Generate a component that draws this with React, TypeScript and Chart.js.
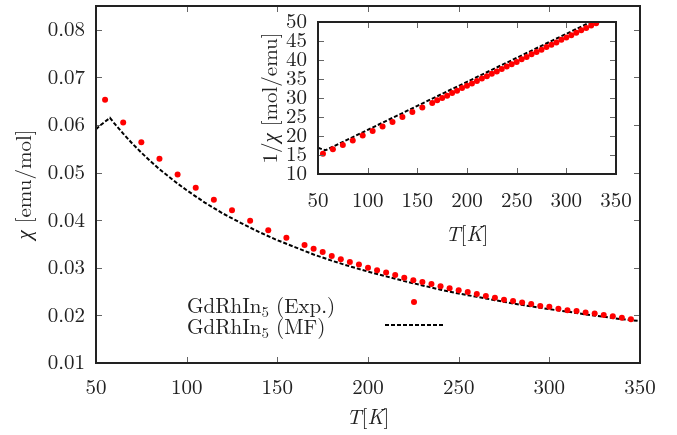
import React, { useEffect, useRef } from 'react';
import { Chart, registerables } from 'chart.js';
Chart.register(...registerables);

// ---------- data ----------
const expT = [55, 65, 75, 85, 95, 105, 115, 125, 135, 145, 155, 165,
  170, 175, 180, 185, 190, 195, 200, 205, 210, 215, 220, 225, 230, 235, 240, 245,
  250, 255, 260, 265, 270, 275, 280, 285, 290, 295, 300, 305, 310, 315, 320, 325,
  330, 335, 340, 345];
const expChi = [0.0653, 0.0605, 0.0564, 0.0529, 0.0496, 0.0468, 0.0443, 0.0421, 0.0399, 0.0379, 0.0363, 0.0348,
  0.0340, 0.0333, 0.0325, 0.0318, 0.0312, 0.0307, 0.0300, 0.0295, 0.0290, 0.0285, 0.0279, 0.0274, 0.0270, 0.0266, 0.0261, 0.0257,
  0.0253, 0.0249, 0.0245, 0.0241, 0.0237, 0.0233, 0.0230, 0.0227, 0.0224, 0.0220, 0.0218, 0.0214, 0.0211, 0.0209, 0.0206, 0.0204,
  0.0201, 0.0198, 0.0195, 0.0192];

const mfT = [50, 52, 55, 57.7, 60, 65, 70, 75, 80, 85, 90, 95, 100, 110, 120, 130, 140, 150, 160, 170,
  180, 190, 200, 210, 220, 230, 240, 250, 260, 270, 280, 290, 300, 310, 320, 330, 340, 350];
const mfChi = [0.0591, 0.0598, 0.0607, 0.0615, 0.0604, 0.0582, 0.0561, 0.0542, 0.0524, 0.0507, 0.0492, 0.0477, 0.0463, 0.0437, 0.0414, 0.0394, 0.0375, 0.0358, 0.0343, 0.0328,
  0.0315, 0.0303, 0.0292, 0.0282, 0.0272, 0.0263, 0.0254, 0.0246, 0.0239, 0.0232, 0.0225, 0.0219, 0.0213, 0.0208, 0.0202, 0.0197, 0.0192, 0.0188];

const insetExpT = [55, 65, 75, 85, 95, 105, 115, 125, 135, 145, 155, 165,
  170, 175, 180, 185, 190, 195, 200, 205, 210, 215, 220, 225, 230, 235, 240, 245,
  250, 255, 260, 265, 270, 275, 280, 285, 290, 295, 300, 305, 310, 315, 320, 325, 330];
const insetExpInv = [15.3, 16.5, 17.6, 18.8, 20.1, 21.3, 22.5, 23.7, 25.0, 26.3, 27.5, 28.7,
  29.4, 30.0, 30.6, 31.3, 31.9, 32.6, 33.2, 33.8, 34.5, 35.1, 35.7, 36.4, 37.0, 37.6, 38.3, 38.9,
  39.5, 40.2, 40.8, 41.5, 42.1, 42.7, 43.4, 44.0, 44.6, 45.3, 45.9, 46.5, 47.2, 47.8, 48.4, 49.1, 49.7];
const insetMfT = [50, 55, 57.7, 100, 150, 200, 250, 300, 330];
const insetMfInv = [16.9, 16.45, 16.26, 21.6, 27.93, 34.25, 40.57, 46.89, 50.68];

const mainXTicks = [50, 100, 150, 200, 250, 300, 350];
const mainYTicks = [0.01, 0.02, 0.03, 0.04, 0.05, 0.06, 0.07, 0.08];
const insetXTicks = [50, 100, 150, 200, 250, 300, 350];
const insetYTicks = [10, 15, 20, 25, 30, 35, 40, 45, 50];

const FONT = "'Latin Modern Roman', 'Liberation Serif', serif";
const FS = 21;

type Part = { t: string; it?: boolean; sub?: boolean };

function richWidth(ctx: CanvasRenderingContext2D, parts: Part[]) {
  let w = 0;
  for (const p of parts) {
    ctx.font = `${p.it ? 'italic ' : ''}${p.sub ? 15 : FS}px ${FONT}`;
    w += ctx.measureText(p.t).width;
  }
  return w;
}

function drawRich(ctx: CanvasRenderingContext2D, parts: Part[], x: number, y: number, opts: { center?: boolean; rotate?: boolean; baseline?: CanvasTextBaseline } = {}) {
  ctx.save();
  ctx.fillStyle = '#222';
  ctx.textBaseline = opts.baseline || 'middle';
  ctx.textAlign = 'left';
  ctx.translate(x, y);
  if (opts.rotate) ctx.rotate(-Math.PI / 2);
  let cx = opts.center ? -richWidth(ctx, parts) / 2 : 0;
  for (const p of parts) {
    ctx.font = `${p.it ? 'italic ' : ''}${p.sub ? 15 : FS}px ${FONT}`;
    ctx.fillText(p.t, cx, p.sub ? 4 : 0);
    cx += ctx.measureText(p.t).width;
  }
  ctx.restore();
}

function frameAndTicks(chart: any, xt: number[], yt: number[]) {
  const ctx = chart.ctx as CanvasRenderingContext2D;
  const a = chart.chartArea;
  const xs = chart.scales.x, ys = chart.scales.y;
  ctx.save();
  ctx.strokeStyle = '#666';
  ctx.lineWidth = 1;
  const L = 6;
  for (const v of xt) {
    const px = Math.round(xs.getPixelForValue(v)) + 0.5;
    ctx.beginPath();
    ctx.moveTo(px, a.bottom); ctx.lineTo(px, a.bottom - L);
    ctx.moveTo(px, a.top); ctx.lineTo(px, a.top + L);
    ctx.stroke();
  }
  for (const v of yt) {
    const py = Math.round(ys.getPixelForValue(v)) + 0.5;
    ctx.beginPath();
    ctx.moveTo(a.left, py); ctx.lineTo(a.left + L, py);
    ctx.moveTo(a.right, py); ctx.lineTo(a.right - L, py);
    ctx.stroke();
  }
  ctx.strokeStyle = '#222';
  ctx.lineWidth = 2;
  ctx.strokeRect(a.left, a.top, a.right - a.left, a.bottom - a.top);
  ctx.restore();
}

const mainPlugin = {
  id: 'mainDecor',
  afterDraw(chart: any) {
    const ctx = chart.ctx as CanvasRenderingContext2D;
    const a = chart.chartArea;
    frameAndTicks(chart, mainXTicks, mainYTicks);
    drawRich(ctx, [{ t: 'T', it: true }, { t: '[' }, { t: 'K', it: true }, { t: ']' }], (a.left + a.right) / 2, 418, { center: true });
    drawRich(ctx, [{ t: 'χ', it: true }, { t: ' [emu/mol]' }], 25, (a.top + a.bottom) / 2, { center: true, rotate: true });
    drawRich(ctx, [{ t: 'GdRhIn' }, { t: '5', sub: true }, { t: ' (Exp.)' }], 187, 313, { baseline: 'alphabetic' });
    drawRich(ctx, [{ t: 'GdRhIn' }, { t: '5', sub: true }, { t: ' (MF)' }], 187, 334, { baseline: 'alphabetic' });
    ctx.save();
    ctx.fillStyle = '#ff0000';
    ctx.beginPath();
    ctx.arc(414, 302, 3, 0, Math.PI * 2);
    ctx.fill();
    ctx.strokeStyle = '#000';
    ctx.lineWidth = 2;
    ctx.setLineDash([4, 2]);
    ctx.beginPath();
    ctx.moveTo(385, 325); ctx.lineTo(443, 325);
    ctx.stroke();
    ctx.restore();
  },
};

const insetPlugin = {
  id: 'insetDecor',
  afterDraw(chart: any) {
    const ctx = chart.ctx as CanvasRenderingContext2D;
    const a = chart.chartArea;
    frameAndTicks(chart, insetXTicks, insetYTicks);
    drawRich(ctx, [{ t: 'T', it: true }, { t: '[' }, { t: 'K', it: true }, { t: ']' }], (a.left + a.right) / 2, 235, { center: true });
    drawRich(ctx, [{ t: '1/' }, { t: 'χ', it: true }, { t: ' [mol/emu]' }], 271, (a.top + a.bottom) / 2, { center: true, rotate: true });
  },
};

function axis(min: number, max: number, tickVals: number[], fmt: (v: number) => string, pad: number, fit: (s: any) => void) {
  return {
    type: 'linear' as const,
    min, max,
    grid: { display: false, drawTicks: false },
    border: { display: false },
    ticks: {
      padding: pad,
      autoSkip: false,
      maxRotation: 0,
      includeBounds: false,
      color: '#222',
      font: { family: FONT, size: FS },
      callback: (v: any) => fmt(Number(v)),
    },
    afterBuildTicks: (s: any) => { s.ticks = tickVals.map((v) => ({ value: v })); },
    afterFit: (s: any) => {
      fit(s);
      s.paddingTop = 0; s.paddingBottom = 0; s.paddingLeft = 0; s.paddingRight = 0;
    },
  };
}

export default function App() {
  const mainRef = useRef<HTMLCanvasElement>(null);
  const insetRef = useRef<HTMLCanvasElement>(null);

  useEffect(() => {
    const main = new Chart(mainRef.current!, {
      type: 'scatter',
      data: {
        datasets: [
          {
            label: 'MF',
            data: mfT.map((t, i) => ({ x: t, y: mfChi[i] })),
            showLine: true,
            borderColor: '#000',
            borderWidth: 2,
            borderDash: [4, 2],
            pointRadius: 0,
            tension: 0,
            order: 2,
          },
          {
            label: 'Exp',
            data: expT.map((t, i) => ({ x: t, y: expChi[i] })),
            showLine: false,
            pointRadius: 3,
            pointBorderWidth: 0,
            backgroundColor: '#ff0000',
            borderColor: '#ff0000',
            order: 1,
          },
        ],
      },
      options: {
        animation: false,
        responsive: false,
        devicePixelRatio: 1,
        layout: { padding: { left: 0, right: 37, top: 6, bottom: 0 } },
        plugins: { legend: { display: false }, tooltip: { enabled: false } },
        scales: {
          x: axis(50, 350, mainXTicks, (v) => String(v), 12, (s) => { s.height = 72; }),
          y: axis(0.01, 0.085, mainYTicks, (v) => v.toFixed(2), 11, (s) => { s.width = 96; }),
        },
      } as any,
      plugins: [mainPlugin],
    });

    const inset = new Chart(insetRef.current!, {
      type: 'scatter',
      data: {
        datasets: [
          {
            label: 'MF',
            data: insetMfT.map((t, i) => ({ x: t, y: insetMfInv[i] })),
            showLine: true,
            borderColor: '#000',
            borderWidth: 2,
            borderDash: [4, 2],
            pointRadius: 0,
            tension: 0,
            order: 2,
          },
          {
            label: 'Exp',
            data: insetExpT.map((t, i) => ({ x: t, y: insetExpInv[i] })),
            showLine: false,
            pointRadius: 3,
            pointBorderWidth: 0,
            backgroundColor: '#ff0000',
            borderColor: '#ff0000',
            order: 1,
          },
        ],
      },
      options: {
        animation: false,
        responsive: false,
        devicePixelRatio: 1,
        layout: { padding: { left: 0, right: 61, top: 22, bottom: 0 } },
        plugins: { legend: { display: false }, tooltip: { enabled: false } },
        scales: {
          x: axis(50, 350, insetXTicks, (v) => String(v), 14, (s) => { s.height = 261; }),
          y: axis(10, 50, insetYTicks, (v) => String(v), 11, (s) => { s.width = 318; }),
        },
      } as any,
      plugins: [insetPlugin],
    });

    return () => { main.destroy(); inset.destroy(); };
  }, []);

  return (
    <div style={{ position: 'absolute', left: 0, top: 0, width: 677, height: 435, background: '#fff' }}>
      <canvas ref={mainRef} width={677} height={435} style={{ position: 'absolute', left: 0, top: 0 }} />
      <canvas ref={insetRef} width={677} height={435} style={{ position: 'absolute', left: 0, top: 0 }} />
    </div>
  );
}
